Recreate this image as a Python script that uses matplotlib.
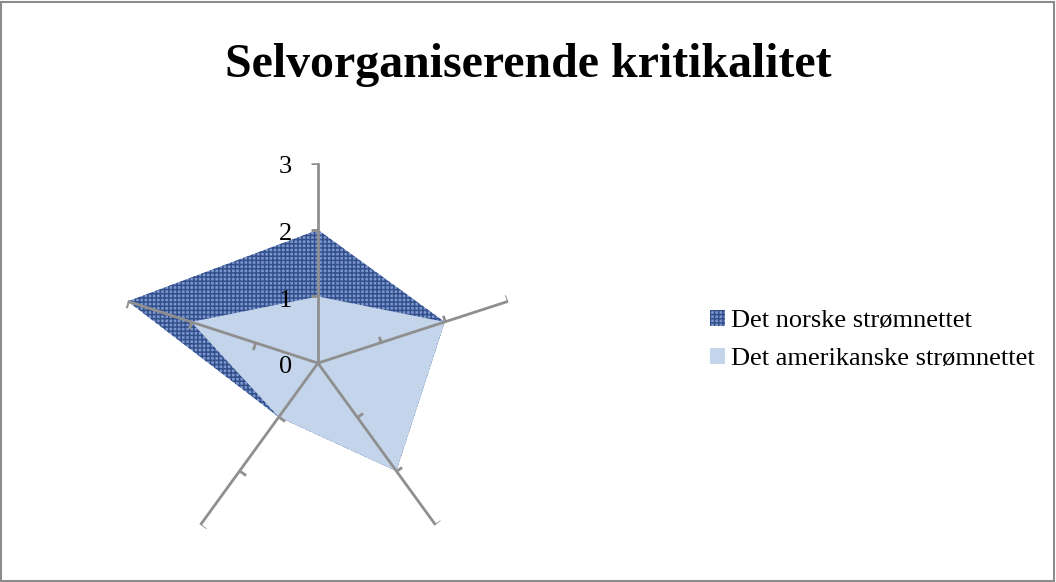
import numpy as np
import matplotlib.pyplot as plt
from matplotlib.markers import MarkerStyle
from matplotlib.path import Path
from matplotlib.transforms import Affine2D
from matplotlib.patches import Rectangle

# Data
categories = ['', '', '', '', '']
norsk = [2, 2, 2, 1, 3]
amerikansk = [1, 2, 2, 1, 2]
series_names = ['Det norske strømnettet', 'Det amerikanske strømnettet']
r_ticks = [0, 1, 2, 3]

plt.rcParams['font.family'] = ['Liberation Serif', 'DejaVu Serif']
plt.rcParams['hatch.linewidth'] = 1.1

dark_face, dark_hatch = '#7a96cc', '#33508c'
light_face = '#c4d4eb'
axis_col = '#8f8f8f'

fig = plt.figure(figsize=(10.56, 5.82), dpi=100)
fig.patch.set_facecolor('white')

# ramme rundt hele figuren
fig.patches.append(Rectangle((0.001, 0.002), 0.997, 0.995, transform=fig.transFigure,
                             fill=False, edgecolor='#8c8c8c', linewidth=1.5))

fig.text(0.5, 1 - 77 / 582, 'Selvorganiserende kritikalitet', ha='center', va='baseline',
         fontsize=34.5, fontweight='bold')

ax = fig.add_axes([0.1117, 0.0326, 0.3788, 0.687], projection='polar')
ax.set_theta_offset(np.pi / 2)
ax.set_theta_direction(-1)
ax.set_ylim(0, 3)
ax.grid(False)
ax.spines['polar'].set_visible(False)
ax.set_xticks([])
ax.set_yticks([])
ax.patch.set_alpha(0)

n = len(categories)
theta = np.linspace(0, 2 * np.pi, n, endpoint=False)
th_closed = np.append(theta, theta[0])

ax.fill(th_closed, norsk + norsk[:1], facecolor=dark_face, edgecolor=dark_hatch,
        hatch='++++', linewidth=0, zorder=2)
ax.fill(th_closed, amerikansk + amerikansk[:1], facecolor=light_face, edgecolor='none',
        linewidth=0, zorder=3)

# akser og tikkmerker
seg = Path([(0, 0), (1, 0)])
for t in theta:
    ax.plot([t, t], [0, r_ticks[-1]], color=axis_col, linewidth=2, zorder=4)
    screen_ang = 180 - np.degrees(t)
    m = MarkerStyle(seg, transform=Affine2D().rotate_deg(screen_ang))
    ax.plot([t] * (len(r_ticks) - 1), r_ticks[1:], linestyle='none', marker=m,
            markersize=10, markeredgecolor=axis_col, markeredgewidth=2, zorder=4)

for v in r_ticks:
    ax.annotate(str(v), xy=(0, v), xytext=(-18.5, -3), textcoords='offset points',
                ha='right', va='center', fontsize=19, zorder=5)

# legende
handles = [Rectangle((0, 0), 1, 1, facecolor=dark_face, edgecolor=dark_hatch, hatch='++++', linewidth=0),
           Rectangle((0, 0), 1, 1, facecolor=light_face, edgecolor='none')]
fig.legend(handles, series_names, loc='center left', bbox_to_anchor=(710 / 1056, 1 - 340 / 582),
           frameon=False, fontsize=19, handlelength=0.55, handleheight=0.55,
           handletextpad=0.25, labelspacing=0.6, borderpad=0, borderaxespad=0)

fig.savefig('out.png', dpi=100)
